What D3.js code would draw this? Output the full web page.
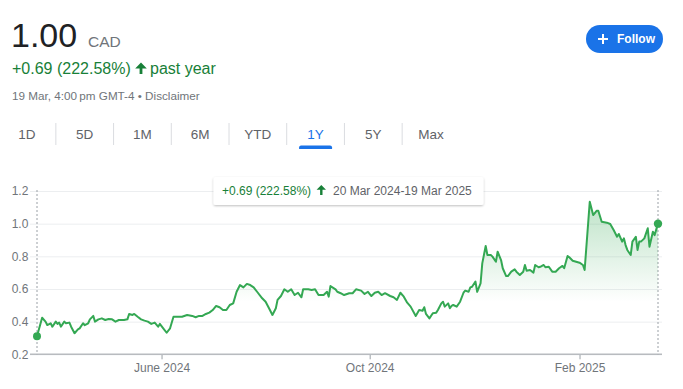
<!DOCTYPE html>
<html><head><meta charset="utf-8">
<script src="https://cdn.jsdelivr.net/npm/d3@7"></script>
<style>
html,body{margin:0;padding:0;background:#fff;}
svg{display:block;font-family:Arial,"Liberation Sans",sans-serif;}
</style></head><body>
<svg id="c" width="683" height="389"></svg>
<script>
// ---- data ----
const startDate = "2024-03-20";
const endDate = "2025-03-19";
const dayOffsets = [0,3,5,6,8,9,11,12,13,14,16,17,19,20,22,24,25,27,28,30,31,33,34,36,38,40,42,44,46,48,51,53,54,56,57,59,61,63,65,67,69,71,72,74,76,78,80,82,85,88,91,93,95,97,99,101,103,105,107,109,111,113,115,117,119,121,123,125,127,129,132,134,136,138,140,141,143,145,147,149,151,153,155,156,159,161,163,165,168,170,171,172,175,176,178,180,183,185,187,190,192,194,196,198,200,202,204,207,209,211,213,215,217,219,222,224,226,227,228,230,232,234,235,237,238,239,241,242,243,244,246,248,250,251,253,254,255,257,258,260,261,263,264,266,267,269,270,272,273,275,276,278,280,281,283,285,286,287,289,291,292,294,295,297,298,300,302,304,306,308,309,311,312,314,316,318,320,321,324,326,328,329,331,334,336,338,340,341,343,344,345,346,348,349,351,352,353,354,356,358,359,361,362,364];
const prices = [0.310,0.424,0.400,0.379,0.390,0.369,0.400,0.386,0.394,0.369,0.400,0.390,0.394,0.369,0.329,0.353,0.359,0.390,0.378,0.390,0.414,0.435,0.400,0.414,0.420,0.410,0.416,0.414,0.400,0.410,0.410,0.414,0.447,0.441,0.447,0.430,0.414,0.406,0.400,0.386,0.394,0.369,0.386,0.359,0.332,0.359,0.430,0.430,0.430,0.441,0.435,0.427,0.435,0.435,0.447,0.455,0.471,0.496,0.488,0.471,0.471,0.502,0.512,0.583,0.624,0.610,0.631,0.624,0.610,0.583,0.543,0.522,0.482,0.441,0.482,0.533,0.557,0.598,0.583,0.598,0.563,0.577,0.549,0.598,0.598,0.594,0.598,0.563,0.563,0.583,0.553,0.618,0.598,0.583,0.574,0.563,0.574,0.574,0.598,0.590,0.569,0.583,0.557,0.577,0.583,0.563,0.574,0.557,0.549,0.533,0.577,0.553,0.516,0.492,0.435,0.471,0.467,0.488,0.447,0.420,0.451,0.455,0.471,0.512,0.522,0.492,0.512,0.482,0.496,0.502,0.492,0.522,0.577,0.590,0.583,0.610,0.614,0.645,0.583,0.635,0.757,0.863,0.808,0.808,0.798,0.767,0.828,0.777,0.727,0.679,0.679,0.706,0.720,0.706,0.686,0.706,0.747,0.712,0.716,0.700,0.747,0.733,0.736,0.747,0.733,0.736,0.706,0.706,0.727,0.741,0.727,0.802,0.794,0.773,0.767,0.761,0.747,0.716,1.134,1.053,1.079,1.079,1.012,1.006,0.998,0.961,0.920,0.937,0.890,0.910,0.869,0.839,0.808,0.890,0.920,0.839,0.890,0.890,0.910,0.972,0.859,0.951,0.930,1.000];
const yTicks = [0.2,0.4,0.6,0.8,1.0,1.2];
const xTickDates = ["2024-06-01","2024-10-01","2025-02-01"];
const xTickLabels = ["June 2024","Oct 2024","Feb 2025"];
const tabs = ["1D","5D","1M","6M","YTD","1Y","5Y","Max"];
const activeTab = "1Y";
const priceText = "1.00";
const currency = "CAD";
const changeText = "+0.69 (222.58%)";
const periodText = "past year";
const stampText = "19 Mar, 4:00\u2009pm GMT-4 \u2022 Disclaimer";
const rangeText = "20 Mar 2024-19 Mar 2025";

// ---- setup ----
const svg = d3.select("#c");
const GREEN = "#34a853", TXTGREEN = "#188038", GRAY = "#70757a", BLUE = "#1a73e8";
const parse = d3.timeParse("%Y-%m-%d");
const t0 = parse(startDate);
const data = dayOffsets.map((d,i)=>({date: d3.timeDay.offset(t0, d), v: prices[i]}));

const x = d3.scaleTime().domain([t0, parse(endDate)]).range([37, 658]);
const y = d3.scaleLinear().domain([0.2, 1.2]).range([354.3, 191]);

const defs = svg.append("defs");
const grad = defs.append("linearGradient").attr("id","fillg")
  .attr("gradientUnits","userSpaceOnUse").attr("x1",0).attr("x2",0)
  .attr("y1", y(1.17)).attr("y2", y(0.52));
grad.append("stop").attr("offset",0).attr("stop-color",GREEN).attr("stop-opacity",0.34);
grad.append("stop").attr("offset",1).attr("stop-color",GREEN).attr("stop-opacity",0);
const f = defs.append("filter").attr("id","sh").attr("x","-10%").attr("y","-30%").attr("width","120%").attr("height","180%");
f.append("feDropShadow").attr("dx",0).attr("dy",1).attr("stdDeviation",1.3).attr("flood-color","#000").attr("flood-opacity",0.25);

// ---- header ----
svg.append("text").attr("x",11).attr("y",46.7).attr("font-size",34).attr("fill","#202124").text(priceText);
svg.append("text").attr("x",88).attr("y",46.7).attr("font-size",15.5).attr("fill",GRAY).text(currency);
svg.append("text").attr("x",12).attr("y",74).attr("font-size",16).attr("fill",TXTGREEN).text(changeText);
function upArrow(cx, top, bottom, hw, hh, sw){
  return `M${cx},${top}L${cx+hw},${top+hh}L${cx+sw},${top+hh}L${cx+sw},${bottom}L${cx-sw},${bottom}L${cx-sw},${top+hh}L${cx-hw},${top+hh}Z`;
}
svg.append("path").attr("d", upArrow(141,62.5,74,5.8,6,1.4)).attr("fill",TXTGREEN);
svg.append("text").attr("x",150).attr("y",74).attr("font-size",16).attr("fill",TXTGREEN).text(periodText);
svg.append("text").attr("x",12).attr("y",100).attr("font-size",11.7).attr("fill",GRAY).text(stampText);

// follow button
svg.append("rect").attr("x",586).attr("y",25).attr("width",77).attr("height",28).attr("rx",14).attr("fill",BLUE);
svg.append("path").attr("d","M598,39H608M603,34V44").attr("stroke","#fff").attr("stroke-width",2);
svg.append("text").attr("x",617).attr("y",43.3).attr("font-size",12).attr("font-weight","bold").attr("fill","#fff").text("Follow");

// tabs
const tx = d3.scalePoint().domain(tabs).range([27, 431]);
const step = tx.step();
svg.append("g").selectAll("text").data(tabs).join("text")
  .attr("x", d=>tx(d)).attr("y",138.5).attr("text-anchor","middle").attr("font-size",13.5)
  .attr("fill", d=> d===activeTab ? BLUE : "#5f6368").text(d=>d);
svg.append("g").selectAll("line").data(tabs.slice(1)).join("line")
  .attr("x1", d=>tx(d)-step/2).attr("x2", d=>tx(d)-step/2).attr("y1",123).attr("y2",145)
  .attr("stroke","#dadce0").attr("stroke-width",1);
{
  const cx = tx(activeTab), x0 = cx-16.5, x1 = cx+16.5;
  svg.append("path").attr("d",`M${x0},149V147.5Q${x0},145.5 ${x0+2},145.5H${x1-2}Q${x1},145.5 ${x1},147.5V149Z`).attr("fill",BLUE);
}

// ---- chart ----
const gy = svg.append("g").attr("transform","translate(30,0)")
  .call(d3.axisLeft(y).tickValues(yTicks).tickFormat(d3.format(".1f")).tickSize(-632).tickPadding(1.7));
gy.select(".domain").remove();
gy.selectAll(".tick line").attr("stroke","#eceef0").attr("stroke-width",1);
gy.selectAll(".tick text").attr("fill",GRAY).attr("font-size",12).attr("font-family","Arial,'Liberation Sans',sans-serif");

const gx = svg.append("g").attr("transform",`translate(0,${y(0.2)})`)
  .call(d3.axisBottom(x).tickValues(xTickDates.map(parse)).tickFormat((d,i)=>xTickLabels[i]).tickSize(5).tickPadding(3.7));
gx.select(".domain").remove();
gx.selectAll(".tick line").attr("stroke","#9aa0a6");
gx.selectAll(".tick text").attr("fill",GRAY).attr("font-size",12).attr("font-family","Arial,'Liberation Sans',sans-serif");
svg.append("line").attr("x1",30).attr("x2",662).attr("y1",y(0.2)).attr("y2",y(0.2)).attr("stroke","#b8bbbf").attr("stroke-width",1.5);

// dotted range markers
[t0, parse(endDate)].forEach(d=>{
  svg.append("line").attr("x1",x(d)).attr("x2",x(d)).attr("y1",190).attr("y2",y(0.2))
    .attr("stroke","#9aa0a6").attr("stroke-width",1).attr("stroke-dasharray","2,2");
});

const area = d3.area().x(d=>x(d.date)).y0(y(0.2)).y1(d=>y(d.v));
svg.append("path").datum(data).attr("d",area).attr("fill","url(#fillg)");
const line = d3.line().x(d=>x(d.date)).y(d=>y(d.v));
svg.append("path").datum(data).attr("d",line).attr("fill","none").attr("stroke",GREEN)
  .attr("stroke-width",2).attr("stroke-linejoin","round");
svg.append("circle").attr("cx",x(data[0].date)).attr("cy",y(data[0].v)).attr("r",4).attr("fill",GREEN);
const last = data[data.length-1];
svg.append("circle").attr("cx",x(last.date)).attr("cy",y(last.v)).attr("r",4.2).attr("fill",GREEN);

// tooltip box
const tip = svg.append("g");
tip.append("rect").attr("x",213.5).attr("y",177).attr("width",270).attr("height",28).attr("rx",2)
  .attr("fill","#fff").attr("filter","url(#sh)");
tip.append("text").attr("x",222).attr("y",195).attr("font-size",12).attr("fill",TXTGREEN).text(changeText);
tip.append("path").attr("d", upArrow(321.3,185,195,4.7,4.8,1.2)).attr("fill",TXTGREEN);
tip.append("text").attr("x",333).attr("y",195).attr("font-size",12).attr("fill","#5f6368").text(rangeText);
</script>
</body></html>
